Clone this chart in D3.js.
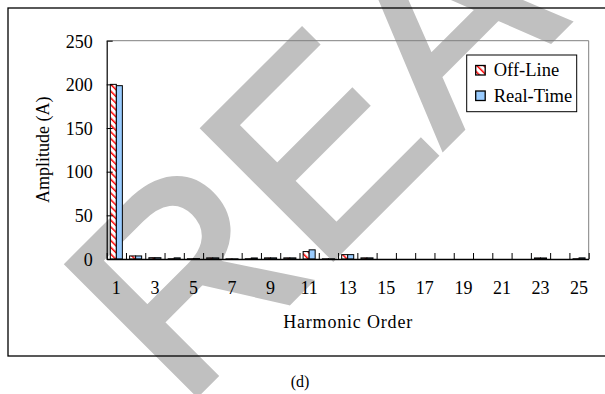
<!DOCTYPE html>
<html>
<head>
<meta charset="utf-8">
<script src="https://cdn.jsdelivr.net/npm/d3@7"></script>
<style>
  body { margin: 0; background: #fff; }
  svg { display: block; }
  text { font-family: "Liberation Serif", "Times New Roman", serif; fill: #000; }
</style>
</head>
<body>
<svg width="605" height="394"></svg>
<script>
var harmonics = [1,2,3,4,5,6,7,8,9,10,11,12,13,14,15,16,17,18,19,20,21,22,23,24,25];
var offLine   = [200,3.5,1.5,0.3,0.3,1.3,0.2,0.3,1.3,1.3,8.5,0.2,5,1.3,0,0,0,0,0,0,0,0,1.2,0,0.3];
var realTime  = [198.5,3.5,1.5,1.3,0.5,1.3,0.2,1.2,1.3,1.3,10.5,0.2,5,1.3,0,0,0,0,0,0,0,0,1.2,0,1.3];
var seriesNames = ["Off-Line", "Real-Time"];
var yTicks = [0,50,100,150,200,250];
var xLabels = [1,3,5,7,9,11,13,15,17,19,21,23,25];

var svg = d3.select("svg"),
    width = +svg.attr("width"),
    height = +svg.attr("height");

var plot = {left: 106.7, right: 588.7, top: 40.7, bottom: 259};

// hatch for the off-line bars
var defs = svg.append("defs");
var pat = defs.append("pattern")
    .attr("id", "hatch")
    .attr("patternUnits", "userSpaceOnUse")
    .attr("width", 4.8).attr("height", 4.8)
    .attr("patternTransform", "rotate(-45)");
pat.append("rect").attr("width", 4.8).attr("height", 4.8).attr("fill", "#fff");
pat.append("rect").attr("width", 1.5).attr("height", 4.8).attr("fill", "#ff0000");

// watermark behind everything
svg.append("text")
    .attr("transform", "translate(182,409) rotate(-45)")
    .style("font-family", "'Liberation Sans', Arial, sans-serif")
    .style("font-size", "266px")
    .style("fill", "#c0c0c0")
    .style("stroke", "#c0c0c0")
    .style("stroke-width", 6)
    .style("stroke-linejoin", "miter")
    .text("REA");

// outer frame
svg.append("rect")
    .attr("x", 8).attr("y", 8)
    .attr("width", 620).attr("height", 348)
    .attr("fill", "none")
    .attr("stroke", "#000")
    .attr("stroke-width", 1.3);

var x = d3.scaleBand()
    .domain(harmonics)
    .range([plot.left, plot.right])
    .padding(0);

var xs = d3.scaleBand()
    .domain(seriesNames)
    .range([0, x.bandwidth()])
    .paddingInner(0)
    .paddingOuter(0.6);

var xEdge = d3.scaleLinear()
    .domain([0, harmonics.length])
    .range([plot.left, plot.right]);

var y = d3.scaleLinear()
    .domain([0, 250])
    .range([plot.bottom, plot.top]);

// plot area border (top and right, grey)
svg.append("path")
    .attr("d", "M" + plot.left + "," + plot.top + "H" + plot.right + "V" + plot.bottom)
    .attr("fill", "none")
    .attr("stroke", "#808080")
    .attr("stroke-width", 1);

var fills = {"Off-Line": "url(#hatch)", "Real-Time": "#99ccff"};

var groups = svg.append("g")
    .attr("class", "bars")
    .selectAll("g")
    .data(harmonics)
    .enter().append("g")
        .attr("transform", function(d) { return "translate(" + x(d) + ",0)"; });

groups.selectAll("rect")
    .data(function(d, i) {
        return [{s: "Off-Line", v: offLine[i]}, {s: "Real-Time", v: realTime[i]}];
    })
    .enter().append("rect")
        .attr("x", function(d) { return xs(d.s); })
        .attr("width", xs.bandwidth())
        .attr("y", function(d) { return y(d.v); })
        .attr("height", function(d) { return y(0) - y(d.v); })
        .attr("fill", function(d) { return fills[d.s]; })
        .attr("stroke", function(d) { return d.v > 0 ? "#000" : "none"; })
        .attr("stroke-width", 1);

// y axis
var yAxis = svg.append("g")
    .attr("transform", "translate(" + plot.left + ",0)")
    .call(d3.axisLeft(y).tickValues(yTicks).tickSizeInner(-6).tickSizeOuter(0).tickPadding(14));
yAxis.select(".domain").attr("stroke", "#000").attr("stroke-width", 1.2);
yAxis.selectAll(".tick line").attr("stroke", "#000");
yAxis.selectAll("text").style("font-size", "18px").attr("dy", "0.35em");

// x axis: tick marks on category edges
var xTickAxis = svg.append("g")
    .attr("transform", "translate(0," + plot.bottom + ")")
    .call(d3.axisBottom(xEdge).tickValues(d3.range(0, harmonics.length + 1)).tickSizeInner(-6).tickSizeOuter(0).tickFormat(""));
xTickAxis.select(".domain").attr("stroke", "#000").attr("stroke-width", 1.5);
xTickAxis.selectAll(".tick line").attr("stroke", "#000");

// x labels on odd harmonics (band axis centres them already)
var xLabelAxis = svg.append("g")
    .attr("transform", "translate(0," + plot.bottom + ")")
    .call(d3.axisBottom(x).tickValues(xLabels).tickSize(0).tickPadding(22));
xLabelAxis.select(".domain").remove();
xLabelAxis.selectAll("text").style("font-size", "18px");

// axis titles
svg.append("text")
    .attr("transform", "translate(49," + ((plot.top + plot.bottom) / 2) + ") rotate(-90)")
    .attr("text-anchor", "middle")
    .style("font-size", "18px")
    .text("Amplitude (A)");

svg.append("text")
    .attr("x", (plot.left + plot.right) / 2)
    .attr("y", 328)
    .attr("text-anchor", "middle")
    .attr("textLength", 129)
    .attr("lengthAdjust", "spacing")
    .style("font-size", "18px")
    .text("Harmonic Order");

svg.append("text")
    .attr("x", 300)
    .attr("y", 387)
    .attr("text-anchor", "middle")
    .style("font-size", "16px")
    .text("(d)");

// legend
var legend = svg.append("g").attr("transform", "translate(466.7,55)");
legend.append("rect")
    .attr("width", 110).attr("height", 56.7)
    .attr("fill", "#fff")
    .attr("stroke", "#000")
    .attr("stroke-width", 1);

var items = legend.selectAll("g")
    .data(seriesNames)
    .enter().append("g")
        .attr("transform", function(d, i) { return "translate(9," + (10.5 + i * 25.5) + ")"; });
items.append("rect")
    .attr("width", 9.5).attr("height", 9.5)
    .attr("fill", function(d) { return fills[d]; })
    .attr("stroke", "#000")
    .attr("stroke-width", 1.3);
items.append("text")
    .attr("x", 18)
    .attr("y", 10.5)
    .style("font-size", "18.5px")
    .text(function(d) { return d; });
</script>
</body>
</html>
